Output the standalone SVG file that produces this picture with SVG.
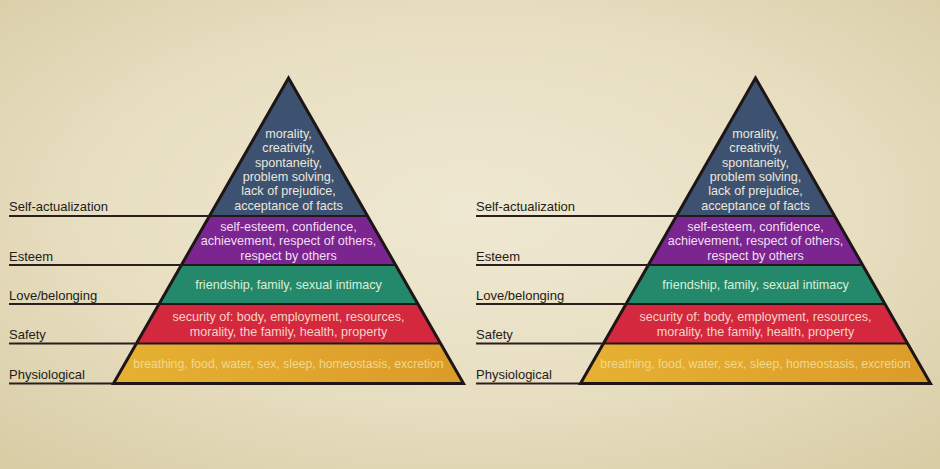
<svg xmlns="http://www.w3.org/2000/svg" width="940" height="469" viewBox="0 0 940 469">
  <defs>
    <radialGradient id="bg" cx="50%" cy="45%" r="72%">
      <stop offset="0" stop-color="#efe8d2"/>
      <stop offset="0.55" stop-color="#e8dfc2"/>
      <stop offset="1" stop-color="#d9cda6"/>
    </radialGradient>
    <linearGradient id="yel" x1="0" y1="0" x2="1" y2="0">
      <stop offset="0" stop-color="#e6b232"/>
      <stop offset="1" stop-color="#db9a2a"/>
    </linearGradient>
    <clipPath id="triL"><polygon points="288.5,78 463.5,383.5 113.5,383.5"/></clipPath>
    <clipPath id="triR"><polygon points="755.5,78 930.5,383.5 580.5,383.5"/></clipPath>
    <style>
      .lbl{font-family:"Liberation Sans",Arial,sans-serif;font-size:13px;fill:#231c18}
      .bt{font-family:"Liberation Sans",Arial,sans-serif;font-size:12.6px;text-anchor:middle}
      .tb{fill:#ebe7dc}.tp{fill:#f3dff0}.tg{fill:#dcefd6}.tr{fill:#f6d3c6}.ty{fill:#f1d88e}
      .lead{stroke:#2a1f1c;stroke-width:2;fill:none}
      .sep{stroke:#221818;stroke-width:2.2;fill:none}
      .out{stroke:#1e1616;stroke-width:3;fill:none;stroke-linejoin:miter}
    </style>
  </defs>
  <rect width="940" height="469" fill="url(#bg)"/>

  <!-- Left pyramid -->
  <g id="pyramid-left">
    <g clip-path="url(#triL)">
      <g id="L-self"><rect x="100" y="70" width="380" height="146" fill="#3d5170"/></g>
      <g id="L-esteem"><rect x="100" y="216" width="380" height="49" fill="#7a2590"/></g>
      <g id="L-love"><rect x="100" y="265" width="380" height="39" fill="#24896b"/></g>
      <g id="L-safety"><rect x="100" y="304" width="380" height="39.5" fill="#d3283d"/></g>
      <g id="L-phys"><rect x="100" y="343.5" width="380" height="41" fill="url(#yel)"/></g>
    </g>
    <line class="sep" x1="209.4" y1="216" x2="367.6" y2="216"/>
    <line class="sep" x1="181.4" y1="265" x2="395.6" y2="265"/>
    <line class="sep" x1="159" y1="304" x2="418" y2="304"/>
    <line class="sep" x1="136.4" y1="343.5" x2="440.6" y2="343.5"/>
    <polygon class="out" points="288.5,78 463.5,383.5 113.5,383.5"/>
    <g class="bt">
      <text class="tb" x="288.5" y="138">morality,</text>
      <text class="tb" x="288.5" y="152.3">creativity,</text>
      <text class="tb" x="288.5" y="166.6">spontaneity,</text>
      <text class="tb" x="288.5" y="181">problem solving,</text>
      <text class="tb" x="288.5" y="195.3">lack of prejudice,</text>
      <text class="tb" x="288.5" y="209.6">acceptance of facts</text>
      <text class="tp" x="288.5" y="231">self-esteem, confidence,</text>
      <text class="tp" x="288.5" y="245.4">achievement, respect of others,</text>
      <text class="tp" x="288.5" y="259.6">respect by others</text>
      <text class="tg" x="288.5" y="289">friendship, family, sexual intimacy</text>
      <text class="tr" x="288.5" y="321">security of: body, employment, resources,</text>
      <text class="tr" x="288.5" y="335.5">morality, the family, health, property</text>
      <text class="ty" x="288.5" y="367.5" font-size="12.2">breathing, food, water, sex, sleep, homeostasis, excretion</text>
    </g>
  </g>

  <!-- Right pyramid -->
  <g id="pyramid-right">
    <g clip-path="url(#triR)">
      <g id="R-self"><rect x="567" y="70" width="380" height="146" fill="#3d5170"/></g>
      <g id="R-esteem"><rect x="567" y="216" width="380" height="49" fill="#7a2590"/></g>
      <g id="R-love"><rect x="567" y="265" width="380" height="39" fill="#24896b"/></g>
      <g id="R-safety"><rect x="567" y="304" width="380" height="39.5" fill="#d3283d"/></g>
      <g id="R-phys"><rect x="567" y="343.5" width="380" height="41" fill="url(#yel)"/></g>
    </g>
    <line class="sep" x1="676.4" y1="216" x2="834.6" y2="216"/>
    <line class="sep" x1="648.4" y1="265" x2="862.6" y2="265"/>
    <line class="sep" x1="626" y1="304" x2="885" y2="304"/>
    <line class="sep" x1="603.4" y1="343.5" x2="907.6" y2="343.5"/>
    <polygon class="out" points="755.5,78 930.5,383.5 580.5,383.5"/>
    <g class="bt">
      <text class="tb" x="755.5" y="138">morality,</text>
      <text class="tb" x="755.5" y="152.3">creativity,</text>
      <text class="tb" x="755.5" y="166.6">spontaneity,</text>
      <text class="tb" x="755.5" y="181">problem solving,</text>
      <text class="tb" x="755.5" y="195.3">lack of prejudice,</text>
      <text class="tb" x="755.5" y="209.6">acceptance of facts</text>
      <text class="tp" x="755.5" y="231">self-esteem, confidence,</text>
      <text class="tp" x="755.5" y="245.4">achievement, respect of others,</text>
      <text class="tp" x="755.5" y="259.6">respect by others</text>
      <text class="tg" x="755.5" y="289">friendship, family, sexual intimacy</text>
      <text class="tr" x="755.5" y="321">security of: body, employment, resources,</text>
      <text class="tr" x="755.5" y="335.5">morality, the family, health, property</text>
      <text class="ty" x="755.5" y="367.5" font-size="12.2">breathing, food, water, sex, sleep, homeostasis, excretion</text>
    </g>
  </g>

  <!-- Labels -->
  <g id="labels-left">
    <text class="lbl" x="9" y="211">Self-actualization</text>
    <text class="lbl" x="9" y="260.5">Esteem</text>
    <text class="lbl" x="9" y="299.5">Love/belonging</text>
    <text class="lbl" x="9" y="338.5">Safety</text>
    <text class="lbl" x="9" y="378.5">Physiological</text>
  </g>
  <g id="labels-right">
    <text class="lbl" x="476" y="211">Self-actualization</text>
    <text class="lbl" x="476" y="260.5">Esteem</text>
    <text class="lbl" x="476" y="299.5">Love/belonging</text>
    <text class="lbl" x="476" y="338.5">Safety</text>
    <text class="lbl" x="476" y="378.5">Physiological</text>
  </g>

  <!-- Connectors (leader lines) -->
  <g id="connectors">
    <line class="lead" x1="9" y1="216" x2="209.4" y2="216"/>
    <line class="lead" x1="9" y1="265" x2="181.4" y2="265"/>
    <line class="lead" x1="9" y1="304" x2="159" y2="304"/>
    <line class="lead" x1="9" y1="343.5" x2="136.4" y2="343.5"/>
    <line class="lead" x1="9" y1="383.5" x2="113.5" y2="383.5"/>
    <line class="lead" x1="476" y1="216" x2="676.4" y2="216"/>
    <line class="lead" x1="476" y1="265" x2="648.4" y2="265"/>
    <line class="lead" x1="476" y1="304" x2="626" y2="304"/>
    <line class="lead" x1="476" y1="343.5" x2="603.4" y2="343.5"/>
    <line class="lead" x1="476" y1="383.5" x2="580.5" y2="383.5"/>
  </g>
</svg>
